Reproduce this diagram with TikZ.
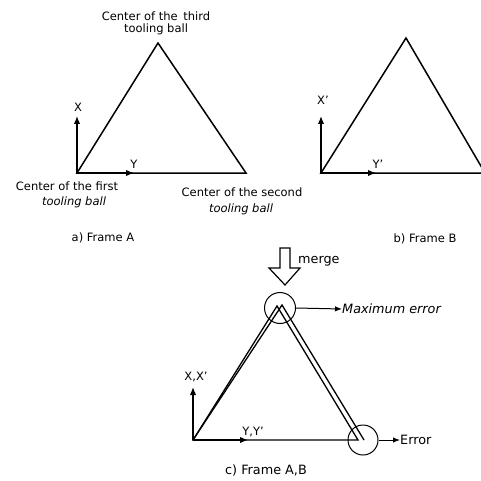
\documentclass[tikz,border=0pt]{standalone}
\usepackage{fontspec}
\setmainfont{DejaVu Sans}
\usetikzlibrary{arrows.meta}
\begin{document}
\begin{tikzpicture}[x=1pt,y=-1pt,
  lbl/.style={inner sep=0pt,font=\fontsize{11.5}{13}\selectfont},
  lblc/.style={inner sep=0pt,font=\fontsize{12.8}{14}\selectfont},
  edge/.style={line width=1.5pt,line join=miter},
  axis/.style={line width=1.4pt,-{Latex[length=8pt,width=6.5pt]}},
  ring/.style={circle,draw,line width=1pt,inner sep=0pt,minimum size=31pt},
  pointer/.style={line width=1pt,-{Latex[length=7pt,width=5.5pt]}}]
\useasboundingbox (0,0) rectangle (481,481);
\begin{scope}
\clip (0,0) rectangle (481,481);
% Frame A
\coordinate (a1) at (77,173);
\coordinate (a2) at (246,173);
\coordinate (a3) at (158,43);
\draw[edge] (a1) -- (a3) -- (a2) -- cycle;
\coordinate (ax) at (77,116);
\coordinate (ay) at (134,173);
\draw[axis] (a1) -- (ax);
\draw[axis] (a1) -- (ay);
\node[lbl] (lx) at (78,107) {X};
\node[lbl] (ly) at (134,164) {Y};
\node[lbl] (t3a) at (156,16) {Center of the\, third};
\node[lbl] (t3b) at (156,29) {tooling ball};
\node[lbl] (t1a) at (67,186) {Center of the first};
\node[lbl] (t1b) at (74,202) {\itshape tooling ball};
\node[lbl] (t2a) at (242,192) {Center of the second};
\node[lbl] (t2b) at (241,209) {\itshape tooling ball};
\node[lbl] (capa) at (103,238) {a) Frame A};
% Frame B
\coordinate (b1) at (321,173);
\coordinate (b2) at (485,173);
\coordinate (b3) at (406,38);
\draw[edge] (b1) -- (b3) -- (b2) -- cycle;
\coordinate (bx) at (321,116);
\coordinate (by) at (376,173);
\draw[axis] (b1) -- (bx);
\draw[axis] (b1) -- (by);
\node[lbl] (lbx) at (323,100) {X'};
\node[lbl] (lby) at (378,164) {Y'};
\node[lbl] (capb) at (425,239) {b) Frame B};
% merge arrow
\draw[line width=1.2pt,line join=miter] (280,248) -- (290,248) -- (290,268) -- (300,268) -- (285,285) -- (269,268) -- (280,268) -- cycle;
\node[lblc,anchor=west] (mg) at (298,261) {merge};
% Frame A,B
\coordinate (c1) at (193,440);
\coordinate (c2) at (358,440);
\coordinate (c3) at (277,306);
\coordinate (d2) at (364,440);
\coordinate (d3) at (282,305);
\draw[edge,line width=1.3pt] (c1) -- (c3) -- (c2) -- cycle;
\draw[edge,line width=1.3pt] (c1) -- (d3) -- (d2);
\coordinate (cx) at (193,387);
\coordinate (cy) at (248,440);
\draw[axis] (c1) -- (cx);
\draw[axis] (c1) -- (cy);
\node[lbl] (lcx) at (196,377) {X,X'};
\node[lbl] (lcy) at (253,432) {Y,Y'};
\node[ring] (r1) at (280,308) {};
\node[ring,minimum size=30pt] (r2) at (363,440) {};
\node[lblc,anchor=west] (maxe) at (342,309) {\itshape Maximum error};
\node[lblc,anchor=west] (err) at (400,440) {Error};
\draw[pointer] (r1.east) -- (maxe.west);
\draw[pointer] (r2.east) -- (err.west);
\node[lblc] (capc) at (266,470) {c) Frame A,B};
\end{scope}
\end{tikzpicture}
\end{document}
